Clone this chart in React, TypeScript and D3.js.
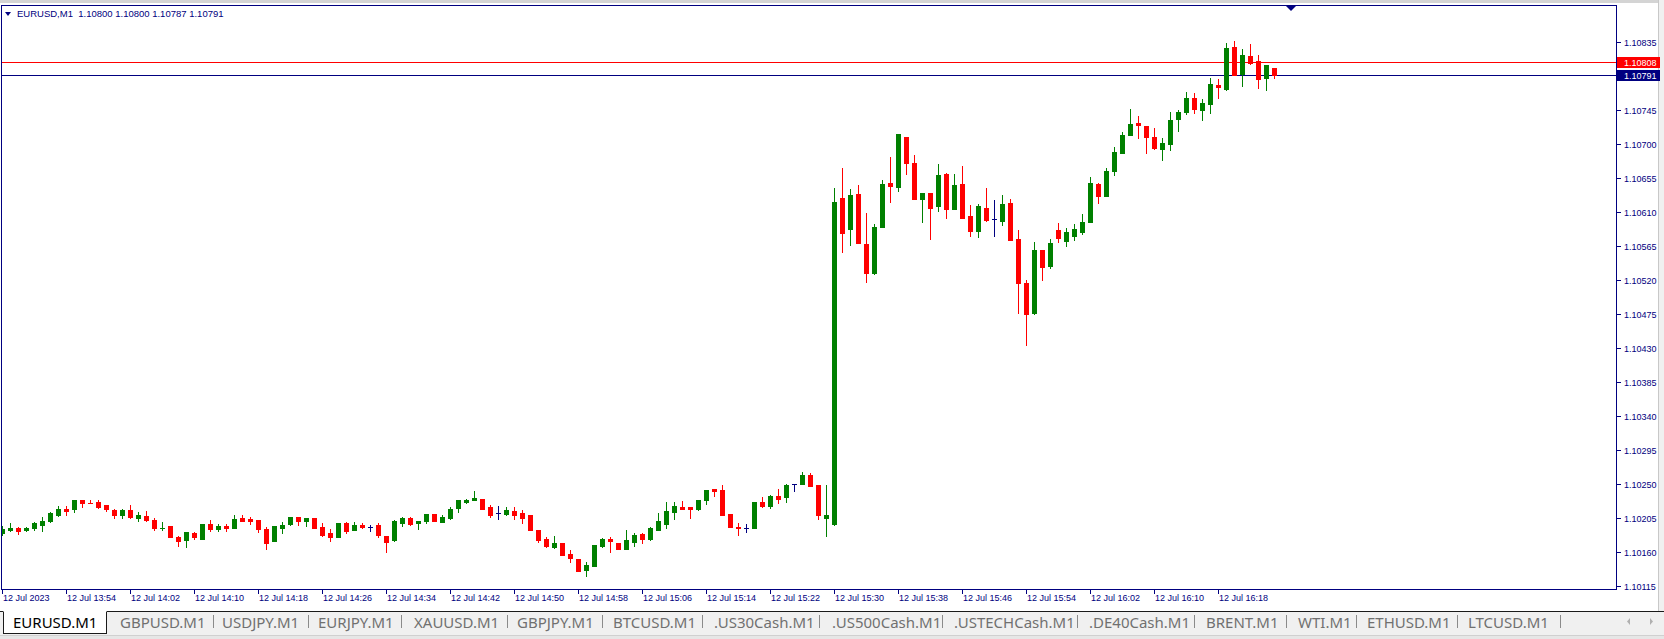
import React from "react";
import * as d3 from "d3";

// ---- Data (EURUSD M1, 12 Jul 2023, 13:46 .. 16:25) ----
const opens = [
  1.10185, 1.10189, 1.10191, 1.10189, 1.10192, 1.10195, 1.10200, 1.10209, 1.10216, 1.10216,
  1.10228, 1.10225, 1.10226, 1.10222, 1.10215, 1.10208, 1.10215, 1.10205, 1.10207, 1.10202,
  1.10191, 1.10194, 1.10180, 1.10175, 1.10185, 1.10177, 1.10197, 1.10190, 1.10194, 1.10192,
  1.10205, 1.10203, 1.10202, 1.10190, 1.10174, 1.10191, 1.10197, 1.10206, 1.10201, 1.10205,
  1.10193, 1.10185, 1.10179, 1.10198, 1.10189, 1.10196, 1.10193, 1.10195, 1.10181, 1.10175,
  1.10198, 1.10205, 1.10198, 1.10200, 1.10210, 1.10199, 1.10204, 1.10218, 1.10226, 1.10228,
  1.10230, 1.10219, 1.10211, 1.10210, 1.10214, 1.10211, 1.10208, 1.10189, 1.10177, 1.10166,
  1.10171, 1.10157, 1.10151, 1.10136, 1.10141, 1.10167, 1.10177, 1.10172, 1.10164, 1.10173,
  1.10184, 1.10177, 1.10189, 1.10197, 1.10213, 1.10219, 1.10219, 1.10216, 1.10229, 1.10243,
  1.10242, 1.10210, 1.10193, 1.10192, 1.10192, 1.10226, 1.10220, 1.10234, 1.10232, 1.10249,
  1.10249, 1.10261, 1.10248, 1.10205, 1.10197, 1.10628, 1.10587, 1.10633, 1.10567, 1.10529,
  1.10590, 1.10648, 1.10643, 1.10709, 1.10674, 1.10627, 1.10635, 1.10617, 1.10660, 1.10613,
  1.10647, 1.10604, 1.10584, 1.10615, 1.10600, 1.10598, 1.10622, 1.10574, 1.10516, 1.10476,
  1.10559, 1.10538, 1.10586, 1.10571, 1.10578, 1.10583, 1.10596, 1.10647, 1.10631, 1.10664,
  1.10688, 1.10711, 1.10727, 1.10723, 1.10709, 1.10693, 1.10700, 1.10733, 1.10742, 1.10761,
  1.10745, 1.10753, 1.10778, 1.10773, 1.10828, 1.10792, 1.10816, 1.10809, 1.10787, 1.10800,
];
const highs = [
  1.10194, 1.10198, 1.10193, 1.10193, 1.10199, 1.10206, 1.10213, 1.10220, 1.10221, 1.10229,
  1.10229, 1.10229, 1.10228, 1.10222, 1.10217, 1.10216, 1.10222, 1.10212, 1.10214, 1.10204,
  1.10199, 1.10194, 1.10181, 1.10186, 1.10186, 1.10197, 1.10202, 1.10197, 1.10197, 1.10208,
  1.10208, 1.10206, 1.10202, 1.10193, 1.10194, 1.10199, 1.10206, 1.10206, 1.10205, 1.10205,
  1.10198, 1.10190, 1.10198, 1.10199, 1.10199, 1.10198, 1.10195, 1.10198, 1.10181, 1.10202,
  1.10206, 1.10206, 1.10200, 1.10210, 1.10210, 1.10209, 1.10219, 1.10228, 1.10230, 1.10241,
  1.10230, 1.10222, 1.10220, 1.10219, 1.10219, 1.10215, 1.10208, 1.10189, 1.10179, 1.10181,
  1.10171, 1.10162, 1.10151, 1.10146, 1.10169, 1.10178, 1.10180, 1.10172, 1.10189, 1.10185,
  1.10185, 1.10193, 1.10211, 1.10226, 1.10226, 1.10227, 1.10219, 1.10229, 1.10242, 1.10243,
  1.10248, 1.10210, 1.10198, 1.10197, 1.10226, 1.10232, 1.10235, 1.10243, 1.10250, 1.10250,
  1.10265, 1.10264, 1.10248, 1.10248, 1.10641, 1.10668, 1.10640, 1.10645, 1.10608, 1.10594,
  1.10652, 1.10682, 1.10713, 1.10709, 1.10685, 1.10635, 1.10635, 1.10673, 1.10661, 1.10660,
  1.10671, 1.10619, 1.10620, 1.10641, 1.10625, 1.10632, 1.10627, 1.10586, 1.10519, 1.10570,
  1.10559, 1.10574, 1.10595, 1.10588, 1.10594, 1.10607, 1.10656, 1.10648, 1.10668, 1.10695,
  1.10715, 1.10746, 1.10737, 1.10723, 1.10721, 1.10708, 1.10742, 1.10744, 1.10769, 1.10767,
  1.10759, 1.10787, 1.10786, 1.10833, 1.10836, 1.10825, 1.10832, 1.10818, 1.10804, 1.10800,
];
const lows = [
  1.10182, 1.10188, 1.10184, 1.10188, 1.10189, 1.10187, 1.10199, 1.10207, 1.10208, 1.10213,
  1.10219, 1.10224, 1.10218, 1.10214, 1.10205, 1.10205, 1.10205, 1.10200, 1.10200, 1.10189,
  1.10189, 1.10179, 1.10168, 1.10166, 1.10177, 1.10177, 1.10187, 1.10188, 1.10188, 1.10192,
  1.10201, 1.10197, 1.10186, 1.10163, 1.10174, 1.10185, 1.10196, 1.10196, 1.10194, 1.10192,
  1.10181, 1.10174, 1.10179, 1.10185, 1.10189, 1.10192, 1.10188, 1.10179, 1.10160, 1.10174,
  1.10194, 1.10196, 1.10190, 1.10198, 1.10200, 1.10199, 1.10203, 1.10213, 1.10225, 1.10228,
  1.10217, 1.10206, 1.10203, 1.10209, 1.10203, 1.10198, 1.10189, 1.10173, 1.10166, 1.10165,
  1.10155, 1.10147, 1.10135, 1.10128, 1.10141, 1.10166, 1.10160, 1.10164, 1.10163, 1.10168,
  1.10172, 1.10175, 1.10189, 1.10192, 1.10203, 1.10216, 1.10204, 1.10215, 1.10223, 1.10234,
  1.10208, 1.10193, 1.10182, 1.10186, 1.10192, 1.10219, 1.10218, 1.10224, 1.10226, 1.10241,
  1.10249, 1.10247, 1.10203, 1.10181, 1.10195, 1.10556, 1.10566, 1.10568, 1.10517, 1.10527,
  1.10590, 1.10623, 1.10637, 1.10660, 1.10627, 1.10596, 1.10574, 1.10611, 1.10602, 1.10613,
  1.10602, 1.10578, 1.10577, 1.10598, 1.10578, 1.10592, 1.10572, 1.10476, 1.10433, 1.10475,
  1.10520, 1.10535, 1.10570, 1.10565, 1.10572, 1.10581, 1.10596, 1.10621, 1.10631, 1.10658,
  1.10688, 1.10711, 1.10707, 1.10688, 1.10693, 1.10678, 1.10691, 1.10717, 1.10739, 1.10741,
  1.10731, 1.10740, 1.10760, 1.10771, 1.10791, 1.10777, 1.10805, 1.10774, 1.10771, 1.10787,
];
const closes = [
  1.10190, 1.10191, 1.10187, 1.10191, 1.10198, 1.10200, 1.10211, 1.10217, 1.10214, 1.10228,
  1.10224, 1.10224, 1.10219, 1.10216, 1.10208, 1.10215, 1.10206, 1.10209, 1.10202, 1.10191,
  1.10192, 1.10180, 1.10174, 1.10186, 1.10179, 1.10197, 1.10190, 1.10194, 1.10192, 1.10203,
  1.10201, 1.10200, 1.10190, 1.10172, 1.10194, 1.10196, 1.10206, 1.10201, 1.10204, 1.10192,
  1.10182, 1.10179, 1.10198, 1.10188, 1.10195, 1.10193, 1.10193, 1.10182, 1.10173, 1.10200,
  1.10204, 1.10197, 1.10200, 1.10210, 1.10200, 1.10206, 1.10216, 1.10228, 1.10229, 1.10231,
  1.10217, 1.10208, 1.10211, 1.10215, 1.10208, 1.10204, 1.10189, 1.10175, 1.10167, 1.10171,
  1.10155, 1.10152, 1.10135, 1.10142, 1.10169, 1.10177, 1.10174, 1.10164, 1.10175, 1.10182,
  1.10177, 1.10191, 1.10200, 1.10214, 1.10221, 1.10216, 1.10217, 1.10229, 1.10242, 1.10240,
  1.10208, 1.10193, 1.10192, 1.10192, 1.10226, 1.10220, 1.10234, 1.10230, 1.10248, 1.10249,
  1.10261, 1.10247, 1.10209, 1.10208, 1.10623, 1.10582, 1.10632, 1.10568, 1.10529, 1.10590,
  1.10647, 1.10644, 1.10713, 1.10675, 1.10627, 1.10635, 1.10615, 1.10659, 1.10614, 1.10645,
  1.10602, 1.10585, 1.10618, 1.10599, 1.10600, 1.10620, 1.10572, 1.10515, 1.10475, 1.10559,
  1.10537, 1.10569, 1.10575, 1.10583, 1.10587, 1.10596, 1.10648, 1.10631, 1.10664, 1.10689,
  1.10712, 1.10726, 1.10725, 1.10709, 1.10694, 1.10701, 1.10731, 1.10742, 1.10761, 1.10746,
  1.10754, 1.10779, 1.10775, 1.10827, 1.10791, 1.10817, 1.10807, 1.10786, 1.10804, 1.10791,
];

const timeTickIndex = [0, 8, 16, 24, 32, 40, 48, 56, 64, 72, 80, 88, 96, 104, 112, 120, 128, 136, 144, 152];
const timeTickLabels = [
  "12 Jul 2023", "12 Jul 13:54", "12 Jul 14:02", "12 Jul 14:10", "12 Jul 14:18", "12 Jul 14:26",
  "12 Jul 14:34", "12 Jul 14:42", "12 Jul 14:50", "12 Jul 14:58", "12 Jul 15:06", "12 Jul 15:14",
  "12 Jul 15:22", "12 Jul 15:30", "12 Jul 15:38", "12 Jul 15:46", "12 Jul 15:54", "12 Jul 16:02",
  "12 Jul 16:10", "12 Jul 16:18",
];
const priceTicks = [
  1.10115, 1.10160, 1.10205, 1.10250, 1.10295, 1.10340, 1.10385, 1.10430, 1.10475,
  1.10520, 1.10565, 1.10610, 1.10655, 1.10700, 1.10745, 1.10835,
];
const askPrice = 1.10808;
const bidPrice = 1.10791;
const symbolTitle = "EURUSD,M1  1.10800 1.10800 1.10787 1.10791";
const tabNames = [
  "EURUSD.M1", "GBPUSD.M1", "USDJPY.M1", "EURJPY.M1", "XAUUSD.M1", "GBPJPY.M1", "BTCUSD.M1",
  ".US30Cash.M1", ".US500Cash.M1", ".USTECHCash.M1", ".DE40Cash.M1", "BRENT.M1", "WTI.M1",
  "ETHUSD.M1", "LTCUSD.M1",
];
const tabTextX = [13, 120, 222, 318, 414, 517, 613, 714, 832, 954, 1089, 1206, 1298, 1367, 1468];
const tabSepX = [213, 308, 401, 507, 602, 702, 819, 942, 1077, 1194, 1286, 1356, 1457, 1560];

const NAVY = "#000080";
const GREEN = "#008000";
const RED = "#ff0000";
const AXIS_FONT = "'Liberation Sans', Arial, sans-serif";

export default function App() {
  const W = 1664;
  const H = 639;
  const frameL = 1, frameR = 1616, frameT = 5, frameB = 589;

  const n = opens.length;
  const x = d3.scaleLinear().domain([0, n - 1]).range([2.5, 2.5 + 8 * (n - 1)]);
  const y = d3.scaleLinear().domain([1.10115, 1.10835]).range([585.7, 41.7]);
  const yr = (v: number) => Math.round(y(v));

  const candles = d3.range(n).map((i) => {
    const o = opens[i], c = closes[i], h = highs[i], l = lows[i];
    const color = c > o ? GREEN : c < o ? RED : NAVY;
    const cx = x(i);
    const top = yr(Math.max(o, c));
    const bot = yr(Math.min(o, c));
    return { i, cx, color, top, bot, hy: yr(h), ly: yr(l) };
  });

  return (
    <svg
      width={W}
      height={H}
      style={{ position: "absolute", left: 0, top: 0, display: "block", background: "#fff" }}
    >
      <rect x={0} y={0} width={W} height={H} fill="#ffffff" />
      {/* window top strip */}
      <rect x={0} y={0} width={W} height={3} fill="#d4d4d4" />
      <rect x={W - 5} y={0} width={5} height={611} fill="#f0f0f0" />
      <line x1={W - 5.5} x2={W - 5.5} y1={0} y2={611} stroke="#c8c8c8" />

      <defs>
        <clipPath id="plotClip">
          <rect x={frameL + 0.5} y={frameT + 0.5} width={frameR - frameL - 1} height={frameB - frameT - 1} />
        </clipPath>
      </defs>

      {/* bid / ask lines */}
      <line x1={frameL} x2={frameR} y1={yr(askPrice) + 0.5} y2={yr(askPrice) + 0.5} stroke={RED} strokeWidth={1} />
      <line x1={frameL} x2={frameR} y1={yr(bidPrice) + 0.5} y2={yr(bidPrice) + 0.5} stroke={NAVY} strokeWidth={1} />

      {/* candles */}
      <g clipPath="url(#plotClip)">
        {candles.map((d) => (
          <g key={d.i}>
            <line x1={d.cx} x2={d.cx} y1={d.hy} y2={d.ly + 1} stroke={d.color} strokeWidth={1} />
            {d.bot - d.top >= 1 ? (
              <rect x={d.cx - 2.5} y={d.top} width={5} height={d.bot - d.top + 1} fill={d.color} />
            ) : (
              <rect x={d.cx - 2.5} y={d.top} width={5} height={1} fill={d.color} />
            )}
          </g>
        ))}
      </g>

      {/* frame */}
      <rect
        x={frameL + 0.5}
        y={frameT + 0.5}
        width={frameR - frameL}
        height={frameB - frameT}
        fill="none"
        stroke={NAVY}
        strokeWidth={1}
      />

      {/* chart shift marker */}
      <path d="M1286,6 L1296,6 L1291,11 Z" fill={NAVY} />

      {/* title */}
      <path d="M5,12 L11,12 L8,16 Z" fill={NAVY} />
      <text x={17} y={17} fontFamily={AXIS_FONT} fontSize={9.5} fill={NAVY} style={{ whiteSpace: "pre" }}>
        {symbolTitle}
      </text>

      {/* price axis */}
      {priceTicks.map((t) => (
        <g key={t}>
          <line x1={frameR + 1} x2={frameR + 5} y1={yr(t) + 0.5} y2={yr(t) + 0.5} stroke={NAVY} />
          <text x={1624} y={yr(t) + 3.5} fontFamily={AXIS_FONT} fontSize={9} fill={NAVY}>
            {t.toFixed(5)}
          </text>
        </g>
      ))}
      {/* price labels */}
      {[
        { p: askPrice, c: RED },
        { p: bidPrice, c: NAVY },
      ].map((b) => (
        <g key={b.p}>
          <rect x={frameR + 1} y={yr(b.p) - 5} width={43} height={11} fill={b.c} />
          <text x={1624} y={yr(b.p) + 3.5} fontFamily={AXIS_FONT} fontSize={9} fill="#ffffff">
            {b.p.toFixed(5)}
          </text>
        </g>
      ))}

      {/* time axis */}
      {timeTickIndex.map((k, j) => (
        <g key={k}>
          <line x1={x(k)} x2={x(k)} y1={frameB + 1} y2={frameB + 5} stroke={NAVY} />
          <text x={x(k) + 0.5} y={601} fontFamily={AXIS_FONT} fontSize={9} fill={NAVY}>
            {timeTickLabels[j]}
          </text>
        </g>
      ))}

      {/* tab bar */}
      <rect x={0} y={611} width={W} height={25} fill="#f0f0f0" />
      <line x1={0} x2={W} y1={611.5} y2={611.5} stroke="#1a1a1a" />
      <rect x={0} y={636} width={W} height={3} fill="#e6e6e6" />
      <line x1={0} x2={W} y1={635.5} y2={635.5} stroke="#d0d0d0" />
      <rect x={3.5} y={611.5} width={103} height={22} fill="#ffffff" stroke="#1a1a1a" />
      <line x1={3.5} x2={106.5} y1={611.5} y2={611.5} stroke="#ffffff" />
      {tabNames.map((t, i) => (
        <text
          key={t}
          x={tabTextX[i]}
          y={628}
          fontFamily="'Noto Sans', 'Open Sans', sans-serif"
          fontSize={15}
          fill={i === 0 ? "#000000" : "#707070"}
        >
          {t}
        </text>
      ))}
      {tabSepX.map((sx) => (
        <line key={sx} x1={sx + 0.5} x2={sx + 0.5} y1={615} y2={628} stroke="#8a8a8a" />
      ))}
      <path d="M1630,618 L1630,625 L1627,621.5 Z" fill="#b0b0b0" />
      <path d="M1650,618 L1650,625 L1653,621.5 Z" fill="#b0b0b0" />
    </svg>
  );
}
